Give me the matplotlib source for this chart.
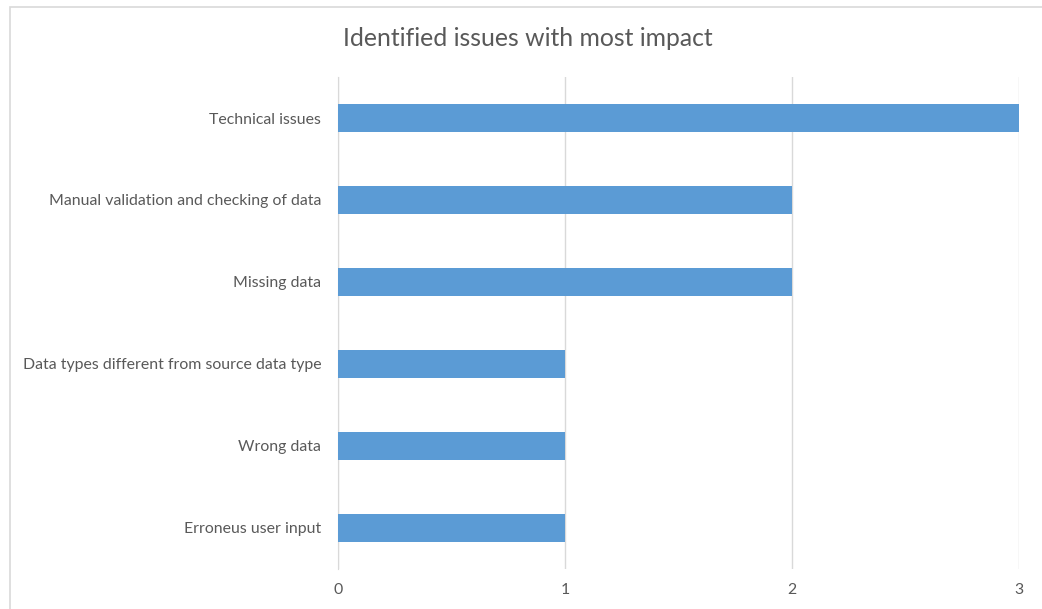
import matplotlib.pyplot as plt
from matplotlib.patches import Rectangle

categories = ['Technical issues', 'Manual validation and checking of data', 'Missing data',
              'Data types different from source data type', 'Wrong data', 'Erroneus user input']
counts = [3, 2, 2, 1, 1, 1]
x_ticks = [0, 1, 2, 3]

plt.rcParams['font.family'] = ['Lato', 'DejaVu Sans']

fig = plt.figure(figsize=(10.42, 6.09), dpi=100)
ax = fig.add_axes([338 / 1042, 1 - 569 / 609, (1019 - 338) / 1042, (569 - 77) / 609])

# chart border, runs off the right and bottom edges
fig.patches.append(Rectangle((10 / 1042, -0.05), 1.1, 1 - 7 / 609 + 0.05, transform=fig.transFigure,
                             fill=False, edgecolor='#d9d9d9', linewidth=1.2))

ypos = list(range(len(categories)))
ax.barh(ypos, counts, height=0.35, color='#5b9bd5', zorder=3)
ax.set_ylim(len(categories) - 0.5, -0.5)
ax.set_xlim(0, 3)
ax.set_yticks(ypos)
ax.set_yticklabels(categories)
ax.set_xticks(x_ticks)
ax.grid(axis='x', color='#d9d9d9', linewidth=1, zorder=0)
for s in ['top', 'right', 'bottom']:
    ax.spines[s].set_visible(False)
ax.spines['left'].set_color('#d9d9d9')
ax.tick_params(length=0, labelsize=11.4, labelcolor='#595959')
ax.tick_params(axis='y', pad=12)
ax.tick_params(axis='x', pad=10)

fig.text(528 / 1042, 1 - 38 / 609, 'Identified issues with most impact', ha='center', va='center',
         fontsize=17.8, color='#595959')

fig.savefig('out.png', dpi=100)
